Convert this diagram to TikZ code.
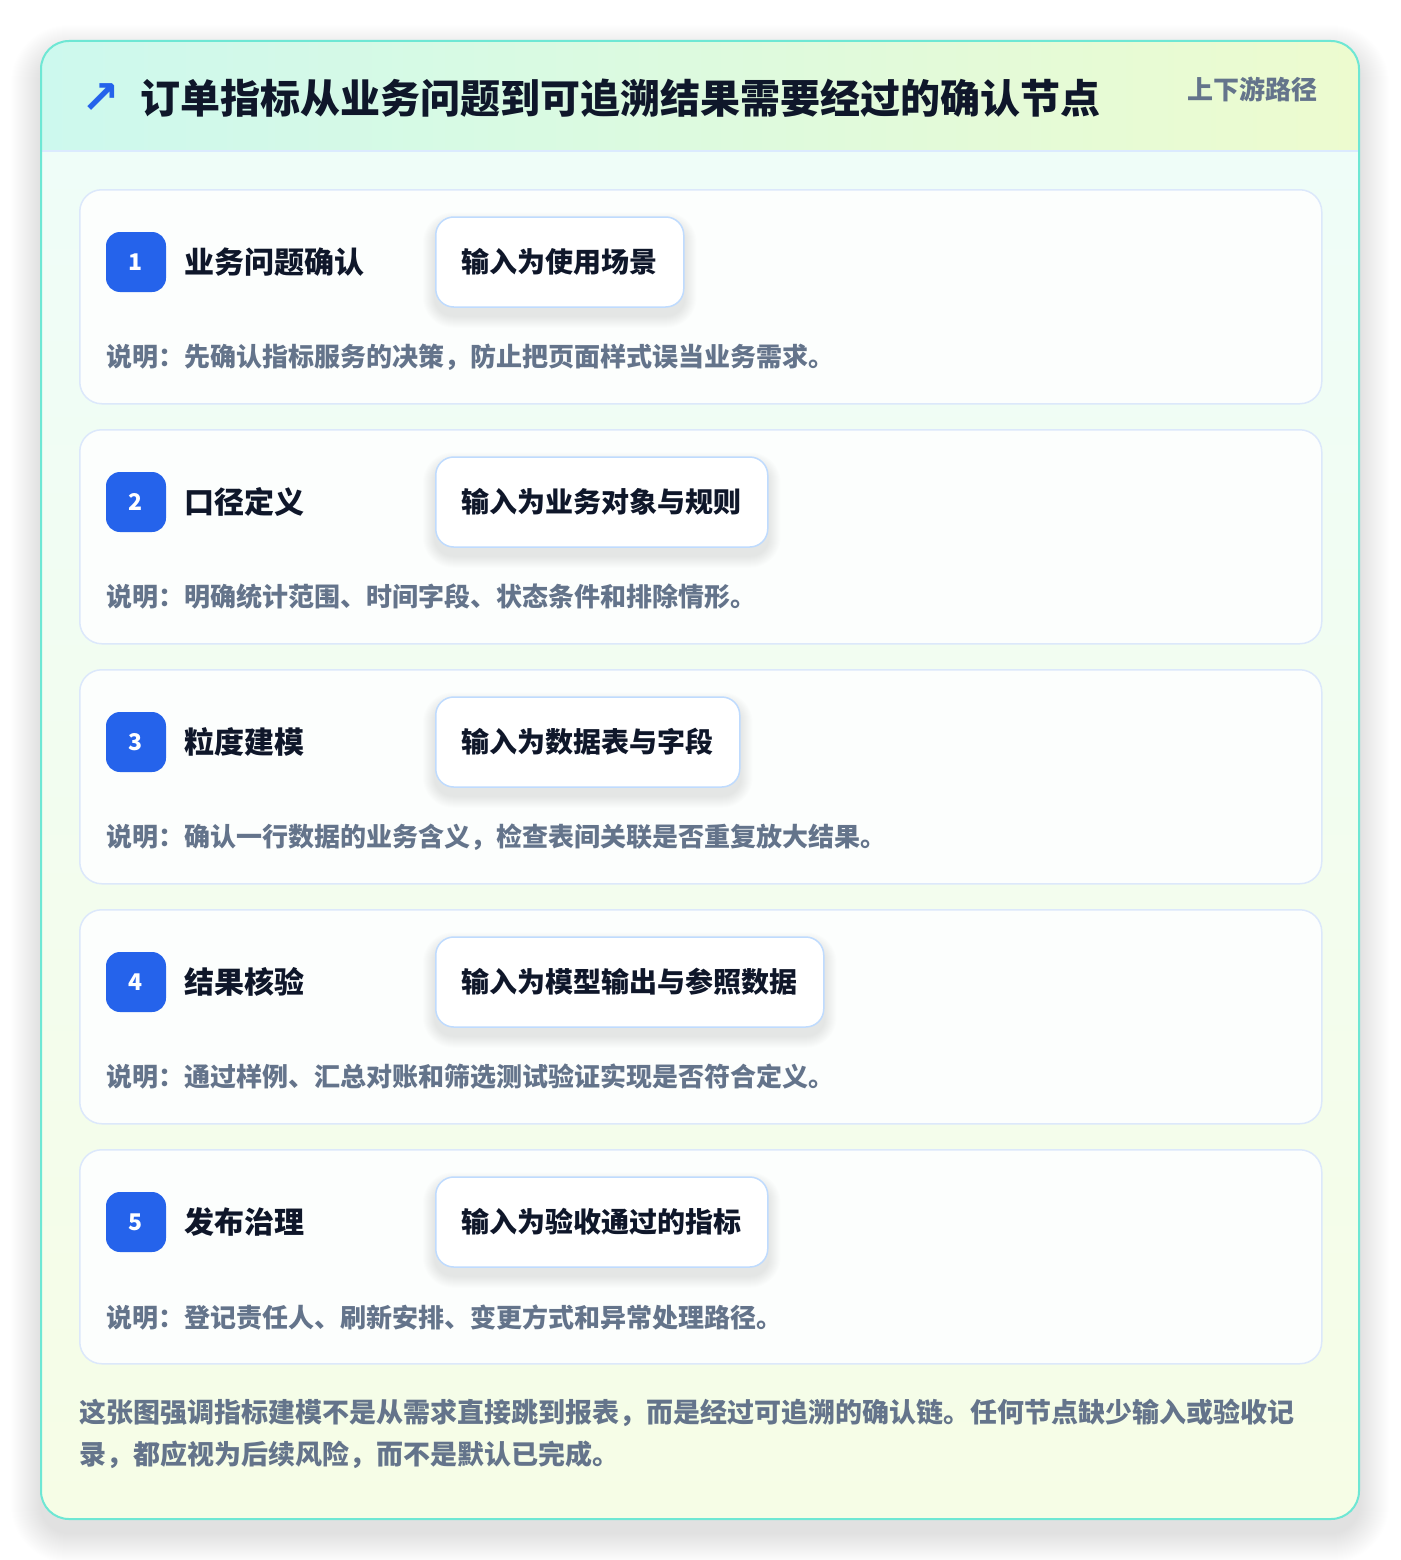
\documentclass[tikz,border=0pt]{standalone}
\usepackage{fontspec}
\setmainfont{Noto Sans CJK SC}
\newfontfamily\symfont{DejaVu Sans}
\definecolor{frameteal}{HTML}{6EE7D4}
\definecolor{headL}{HTML}{CDF9EE}
\definecolor{headR}{HTML}{EDFBCF}
\definecolor{bodyT}{HTML}{EFFDF8}
\definecolor{bodyB}{HTML}{F6FDE6}
\definecolor{lineblue}{HTML}{DBEAFE}
\definecolor{cardborder}{HTML}{DCE8FB}
\definecolor{cardfill}{HTML}{FCFEFD}
\definecolor{inborder}{HTML}{BFDBFE}
\definecolor{badgeblue}{HTML}{2563EB}
\definecolor{ink}{HTML}{0F172A}
\definecolor{muted}{HTML}{64748B}
\pgfdeclarelayer{bg}
\pgfdeclarelayer{cards}
\pgfdeclarelayer{shad}
\pgfsetlayers{bg,cards,shad,main}
\tikzset{
  card/.style={draw=cardborder, line width=1.5pt, fill=cardfill, rounded corners=22pt,
    minimum width=1242pt, minimum height=214pt, anchor=north west, inner sep=0pt},
  badge/.style={fill=badgeblue, rounded corners=14pt, minimum width=60pt, minimum height=60pt,
    inner sep=0pt, text=white, font=\bfseries\fontsize{23}{23}\selectfont},
  ctitle/.style={anchor=west, inner sep=0pt, text=ink, font=\bfseries\fontsize{30}{30}\selectfont},
  inbox/.style={anchor=west, draw=inborder, line width=1.5pt, fill=white, rounded corners=18pt,
    minimum height=90pt, inner xsep=26pt, text=ink, font=\bfseries\fontsize{28}{28}\selectfont},
  desc/.style={anchor=west, inner sep=0pt, text=muted, font=\bfseries\fontsize{26}{26}\selectfont},
}
\begin{document}
\begin{tikzpicture}[x=1pt,y=-1pt]
\useasboundingbox (0,0) rectangle (1400,1560);
\begin{pgfonlayer}{bg}
\fill[white] (0,0) rectangle (1400,1560);
% soft outer shadow
\foreach \k in {1,...,30}{
  \pgfmathsetmacro\rr{28+\k}
  \fill[black, opacity=0.0035, rounded corners=\rr pt] (41-\k,41-\k+14) rectangle (1359+\k,1519+\k+14);
}
\fill[white, rounded corners=28pt] (41,41) rectangle (1359,1519);
\begin{scope}
  \clip[rounded corners=28pt] (41,41) rectangle (1359,1519);
  \shade[top color=bodyT, bottom color=bodyB] (41,151) rectangle (1359,1519);
  \shade[left color=headL, right color=headR] (41,41) rectangle (1359,151);
  \draw[lineblue, line width=1.5pt] (41,151) -- (1359,151);
\end{scope}
\draw[frameteal, line width=2pt, rounded corners=28pt] (41,41) rectangle (1359,1519);
\end{pgfonlayer}
% header
\node[anchor=center, inner sep=0pt, text=badgeblue, font=\symfont\bfseries\fontsize{46}{46}\selectfont] (icon) at (101,99) {↗};
\node[anchor=west, inner sep=0pt, text=ink, font=\bfseries\fontsize{40}{40}\selectfont] (title) at (140,98) {订单指标从业务问题到可追溯结果需要经过的确认节点};
\node[anchor=east, inner sep=0pt, text=muted, font=\bfseries\fontsize{26}{26}\selectfont] (tag) at (1318,89) {上下游路径};
% cards
\foreach \i/\t/\inp/\d in {
  1/{业务问题确认}/{输入为使用场景}/{说明：先确认指标服务的决策，防止把页面样式误当业务需求。},
  2/{口径定义}/{输入为业务对象与规则}/{说明：明确统计范围、时间字段、状态条件和排除情形。},
  3/{粒度建模}/{输入为数据表与字段}/{说明：确认一行数据的业务含义，检查表间关联是否重复放大结果。},
  4/{结果核验}/{输入为模型输出与参照数据}/{说明：通过样例、汇总对账和筛选测试验证实现是否符合定义。},
  5/{发布治理}/{输入为验收通过的指标}/{说明：登记责任人、刷新安排、变更方式和异常处理路径。}}{
  \pgfmathsetmacro\top{189+240*(\i-1)}
  \begin{pgfonlayer}{cards}
    \node[card] (card\i) at (79,\top) {};
  \end{pgfonlayer}
  \node[badge] (badge\i) at (136,\top+73) {\i};
  \node[ctitle] (ctitle\i) at (184,\top+73) {\t};
  \node[inbox] (input\i) at (435,\top+73) {\inp};
  \node[desc] (desc\i) at (106,\top+168) {\d};
  \begin{pgfonlayer}{shad}
    \foreach \k in {1,...,12}{
      \pgfmathsetmacro\rr{18+\k}
      \fill[black, opacity=0.006, rounded corners=\rr pt]
        ([xshift=-\k pt, yshift=\k pt-8pt]input\i.north west) rectangle
        ([xshift=\k pt, yshift=-\k pt-8pt]input\i.south east);
    }
  \end{pgfonlayer}
}
% footer
\node[anchor=north west, inner sep=0pt, align=left, text=muted,
  font=\bfseries\fontsize{27}{42}\selectfont] (foot) at (79,1399)
  {这张图强调指标建模不是从需求直接跳到报表，而是经过可追溯的确认链。任何节点缺少输入或验收记\\录，都应视为后续风险，而不是默认已完成。};
\end{tikzpicture}
\end{document}
